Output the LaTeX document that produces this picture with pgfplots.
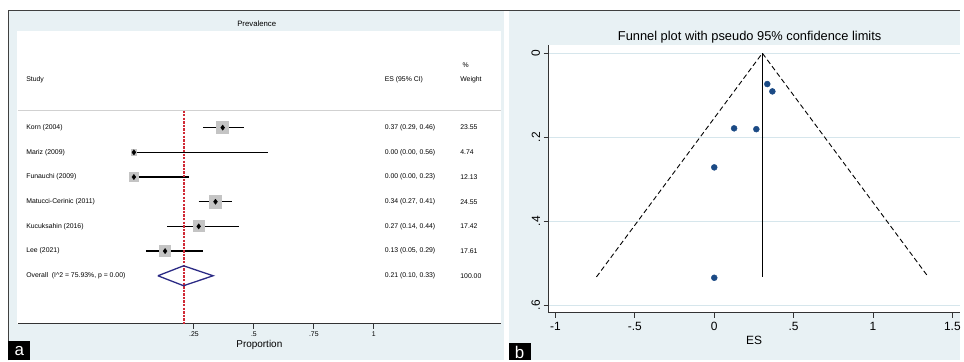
\documentclass[border=0pt]{standalone}
\usepackage{pgfplots}
\pgfplotsset{compat=1.18}
\usepackage{fontspec}
\setmainfont{Liberation Sans}
\definecolor{bgblue}{HTML}{E8F1F4}
\definecolor{gridblue}{HTML}{D6E6EC}
\definecolor{dotblue}{HTML}{1B4A85}
\definecolor{navyd}{HTML}{2B2A85}
\definecolor{redl}{HTML}{D02A36}
\definecolor{sqgray}{HTML}{C4C4C4}
\newcommand{\sm}{\fontsize{6.9}{8}\selectfont}
\begin{document}
\begin{tikzpicture}[x=1pt,y=1pt]
\fill[white] (0pt,0pt) rectangle (964pt,-362pt);
\fill[bgblue] (8pt,-10pt) rectangle (506pt,-362pt);
\fill[bgblue] (511pt,-10pt) rectangle (964pt,-362pt);
\fill[white] (17.5pt,-31pt) rectangle (503pt,-325pt);
\draw[black!75, line width=0.9pt] (8pt,-362pt) -- (8pt,-10pt) -- (964pt,-10pt);

% ---------------- panel a: forest plot ----------------
\begin{axis}[at={(18pt,-325pt)}, anchor=south west, scale only axis,
  width=485pt, height=294pt,
  xmin=-0.4834, xmax=1.529, ymin=0, ymax=294,
  axis x line*=bottom, axis y line=none, ytick=\empty,
  axis line style={black!80, line width=0.9pt, -},
  xtick={0.25,0.5,0.75,1}, xticklabels={.25,.5,.75,1},
  xtick style={black!80, line width=0.9pt},
  tick align=outside, major tick length=5pt,
  xticklabel style={font=\sm},
  xlabel={Proportion}, xlabel style={font=\fontsize{10}{11}\selectfont, inner sep=0pt},
  clip=false]
% header
\node[font=\fontsize{7.8}{9}\selectfont] at (axis cs:0.512,301) {Prevalence};
\node[font=\sm, anchor=west] at (axis cs:1.355,260) {\%};
\node[font=\sm, anchor=west] at (axis cs:-0.463,245) {Study};
\node[font=\sm, anchor=west] at (axis cs:1.031,245) {ES (95\% CI)};
\node[font=\sm, anchor=west] at (axis cs:1.346,245) {Weight};
\addplot[black!18, line width=1.5pt] coordinates {(-0.4834,214) (1.529,214)};
% weight squares
\addplot[sqgray, only marks, mark=square*, mark options={fill=sqgray, draw=sqgray, line width=0pt}, mark size=6.3] coordinates {(0.37,196.8)};
\addplot[sqgray, only marks, mark=square*, mark options={fill=sqgray, draw=sqgray, line width=0pt}, mark size=2.8] coordinates {(0.00,172)};
\addplot[sqgray, only marks, mark=square*, mark options={fill=sqgray, draw=sqgray, line width=0pt}, mark size=4.6] coordinates {(0.00,147.2)};
\addplot[sqgray, only marks, mark=square*, mark options={fill=sqgray, draw=sqgray, line width=0pt}, mark size=6.4] coordinates {(0.34,122.4)};
\addplot[sqgray, only marks, mark=square*, mark options={fill=sqgray, draw=sqgray, line width=0pt}, mark size=5.5] coordinates {(0.27,97.6)};
\addplot[sqgray, only marks, mark=square*, mark options={fill=sqgray, draw=sqgray, line width=0pt}, mark size=5.5] coordinates {(0.13,72.8)};
% CIs
\addplot[black, line width=1.5pt] coordinates {(0.29,196.8) (0.46,196.8)};
\addplot[black, line width=1.5pt] coordinates {(0.00,172) (0.56,172)};
\addplot[black, line width=1.5pt] coordinates {(0.00,147.2) (0.23,147.2)};
\addplot[black, line width=1.5pt] coordinates {(0.27,122.4) (0.41,122.4)};
\addplot[black, line width=1.5pt] coordinates {(0.14,97.6) (0.44,97.6)};
\addplot[black, line width=1.5pt] coordinates {(0.05,72.8) (0.29,72.8)};
% reference line
\addplot[draw=redl, line width=2pt, dash pattern=on 2.4pt off 1.2pt] coordinates {(0.207,214) (0.207,0)};
% point estimates
\addplot[black, only marks, mark=diamond*, mark size=2.6, mark options={fill=black, draw=black}] coordinates {(0.37,196.8) (0.00,172) (0.00,147.2) (0.34,122.4) (0.27,97.6) (0.13,72.8)};
% overall diamond
\addplot[navyd, line width=1.3pt] coordinates {(0.10,48) (0.207,58) (0.33,48) (0.207,38) (0.10,48)};
% labels
\node[font=\sm, anchor=west] at (axis cs:-0.463,196.8) {Korn (2004)};
\node[font=\sm, anchor=west] at (axis cs:-0.463,172) {Mariz (2009)};
\node[font=\sm, anchor=west] at (axis cs:-0.463,147.2) {Funauchi (2009)};
\node[font=\sm, anchor=west] at (axis cs:-0.463,122.4) {Matucci-Cerinic (2011)};
\node[font=\sm, anchor=west] at (axis cs:-0.463,97.6) {Kucuksahin (2016)};
\node[font=\sm, anchor=west] at (axis cs:-0.463,72.8) {Lee (2021)};
\node[font=\sm, anchor=west] at (axis cs:-0.463,48) {Overall\ \ (I\textasciicircum 2 = 75.93\%, p = 0.00)};
\node[font=\sm, anchor=west] at (axis cs:1.031,196.8) {0.37 (0.29, 0.46)};
\node[font=\sm, anchor=west] at (axis cs:1.031,172) {0.00 (0.00, 0.56)};
\node[font=\sm, anchor=west] at (axis cs:1.031,147.2) {0.00 (0.00, 0.23)};
\node[font=\sm, anchor=west] at (axis cs:1.031,122.4) {0.34 (0.27, 0.41)};
\node[font=\sm, anchor=west] at (axis cs:1.031,97.6) {0.27 (0.14, 0.44)};
\node[font=\sm, anchor=west] at (axis cs:1.031,72.8) {0.13 (0.05, 0.29)};
\node[font=\sm, anchor=west] at (axis cs:1.031,48) {0.21 (0.10, 0.33)};
\node[font=\sm, anchor=west] at (axis cs:1.346,196.8) {23.55};
\node[font=\sm, anchor=west] at (axis cs:1.346,172) {4.74};
\node[font=\sm, anchor=west] at (axis cs:1.346,147.2) {12.13};
\node[font=\sm, anchor=west] at (axis cs:1.346,122.4) {24.55};
\node[font=\sm, anchor=west] at (axis cs:1.346,97.6) {17.42};
\node[font=\sm, anchor=west] at (axis cs:1.346,72.8) {17.61};
\node[font=\sm, anchor=west] at (axis cs:1.346,48) {100.00};
\end{axis}

% ---------------- panel b: funnel plot ----------------
\node[font=\fontsize{12.9}{14}\selectfont] at (753pt,-37.7pt) {Funnel plot with pseudo 95\% confidence limits};
\fill[white] (551pt,-45pt) rectangle (964pt,-314pt);
\begin{axis}[at={(551pt,-314pt)}, anchor=south west, scale only axis,
  width=413pt, height=269pt,
  xmin=-1.044, xmax=1.546, ymin=-0.02, ymax=0.618, y dir=reverse,
  axis x line*=bottom, axis y line*=left,
  axis line style={black!80, line width=0.9pt, -},
  xtick={-1,-0.5,0,0.5,1,1.5}, xticklabels={-1,-.5,0,.5,1,1.5},
  ytick={0,0.2,0.4,0.6}, yticklabels={0,.2,.4,.6},
  tick style={black!80, line width=0.9pt},
  tick align=outside, major tick length=5pt,
  ticklabel style={font=\fontsize{12}{13}\selectfont},
  xticklabel style={yshift=-1.5pt},
  yticklabel style={rotate=90, anchor=south},
  ymajorgrids, major grid style={gridblue, line width=0.8pt},
  xlabel={ES}, xlabel style={font=\fontsize{12}{13}\selectfont, inner sep=0pt, yshift=-1.5pt},
  clip=false]
\addplot[black, line width=0.9pt, dash pattern=on 5pt off 3pt] coordinates {(-0.742,0.533) (0.303,0) (1.348,0.533)};
\addplot[black, line width=0.9pt] coordinates {(0.303,0) (0.303,0.533)};
\addplot[dotblue, only marks, mark=*, mark size=3, mark options={fill=dotblue, draw=dotblue}] coordinates {
 (0.334,0.0735) (0.366,0.091) (0.125,0.179) (0.265,0.181) (0.0,0.272) (0.0,0.535)};
\end{axis}

% panel letters
\fill[black] (8pt,-343pt) rectangle (30.5pt,-362pt);
\node[white, font=\fontsize{17}{18}\selectfont] at (19.3pt,-353pt) {a};
\fill[black] (511pt,-345pt) rectangle (533pt,-362pt);
\node[white, font=\fontsize{17}{18}\selectfont] at (522pt,-354pt) {b};
\end{tikzpicture}
\end{document}
